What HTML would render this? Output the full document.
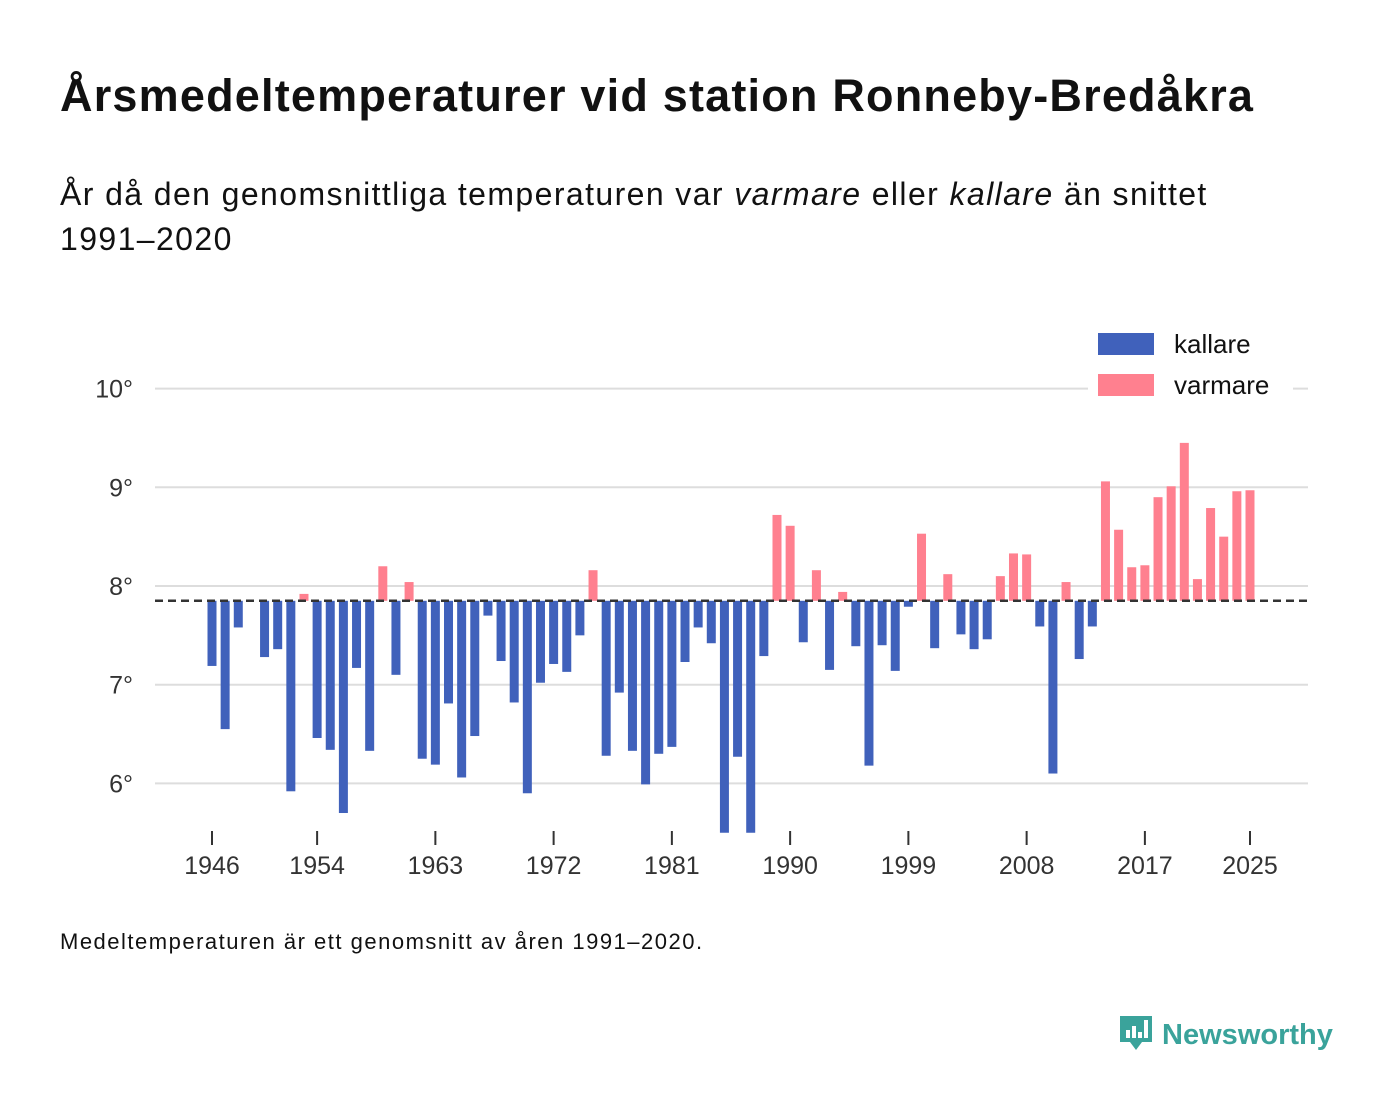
<!DOCTYPE html>
<html><head><meta charset="utf-8"><style>
body{margin:0;width:1400px;height:1116px;background:#fff;font-family:"Liberation Sans",sans-serif;color:#111;position:relative;overflow:hidden}
.t{position:absolute;left:60px;top:70px;font-size:45px;font-weight:bold;letter-spacing:1.2px}
.s{position:absolute;left:60px;top:172px;font-size:32px;line-height:45px;width:1250px;letter-spacing:1.4px}
.f{position:absolute;left:60px;top:929px;font-size:22px;letter-spacing:1.5px}
.logo{position:absolute;left:1118px;top:1012px;font-size:29px;color:#3aa39b;font-weight:bold}
</style></head><body>
<div class="t">Årsmedeltemperaturer vid station Ronneby-Bredåkra</div>
<div class="s">År då den genomsnittliga temperaturen var <i>varmare</i> eller <i>kallare</i> än snittet<br>1991–2020</div>
<svg id="c" width="1400" height="1116" style="position:absolute;left:0;top:0"></svg>
<div class="f">Medeltemperaturen är ett genomsnitt av åren 1991–2020.</div>
<div class="logo"><svg width="36" height="40" style="vertical-align:-8px"><path d="M2 4h32v26H24l-6 8-6-8H2z" fill="#3aa39b"/><rect x="8" y="18" width="4" height="8" fill="#fff"/><rect x="14" y="14" width="4" height="12" fill="#fff"/><rect x="20" y="20" width="4" height="6" fill="#fff"/><rect x="26" y="8" width="4" height="18" fill="#fff"/></svg> Newsworthy</div>
<script>
const startYear=1946;
const values=[7.19,6.55,7.58,null,7.28,7.36,5.92,7.92,6.46,6.34,5.70,7.17,6.33,8.20,7.10,8.04,6.25,6.19,6.81,6.06,6.48,7.70,7.24,6.82,5.90,7.02,7.21,7.13,7.50,8.16,6.28,6.92,6.33,5.99,6.30,6.37,7.23,7.58,7.42,5.50,6.27,5.50,7.29,8.72,8.61,7.43,8.16,7.15,7.94,7.39,6.18,7.40,7.14,7.79,8.53,7.37,8.12,7.51,7.36,7.46,8.10,8.33,8.32,7.59,6.10,8.04,7.26,7.59,9.06,8.57,8.19,8.21,8.90,9.01,9.45,8.07,8.79,8.50,8.96,8.97];
const baseline=7.85;
const yTicks=[6,7,8,9,10];
const xTickYears=[1946,1954,1963,1972,1981,1990,1999,2008,2017,2025];
const svg=document.getElementById('c');const NS='http://www.w3.org/2000/svg';
const X=yr=>212+(yr-1946)*(1250-212)/79;
const Y=v=>586-(v-8)*98.7;
function mk(t,a){const e=document.createElementNS(NS,t);for(const k in a)e.setAttribute(k,a[k]);svg.appendChild(e);return e;}
yTicks.forEach(v=>{const l=mk('line',{x1:155,x2:1308,y1:Y(v),y2:Y(v),stroke:'#ddd','stroke-width':2});


const t=mk('text',{x:133,y:Y(v)+9,'text-anchor':'end','font-size':25,fill:'#333','font-family':'Liberation Sans, sans-serif'});t.textContent=v+'°';

});
values.forEach((v,i)=>{if(v==null)return;const x=X(startYear+i);const y0=Y(baseline),y1=Y(v);
const r=mk('rect',{x:x-4.5,y:Math.min(y0,y1),width:9,height:Math.abs(y1-y0),fill:v>=baseline?'#ff808f':'#4061bb'});

});
const bl=mk('line',{x1:155,x2:1308,y1:Y(baseline),y2:Y(baseline),stroke:'#333','stroke-width':2.5,'stroke-dasharray':'8,5'});


xTickYears.forEach(yr=>{const x=X(yr);const l=mk('line',{x1:x,x2:x,y1:831,y2:845,stroke:'#333','stroke-width':2});


const t=mk('text',{x:x,y:874,'text-anchor':'middle','font-size':25,fill:'#333','font-family':'Liberation Sans, sans-serif'});t.textContent=yr;

});
const lb=mk('rect',{x:1088,y:325,width:205,height:80,fill:'#fff'});


[['kallare','#4061bb',333],['varmare','#ff808f',374]].forEach(([n,c,y])=>{
const r=mk('rect',{x:1098,y:y,width:56,height:22,fill:c});


const t=mk('text',{x:1174,y:y+20,'font-size':26,fill:'#111','font-family':'Liberation Sans, sans-serif'});t.textContent=n;

});
</script>
</body></html>
